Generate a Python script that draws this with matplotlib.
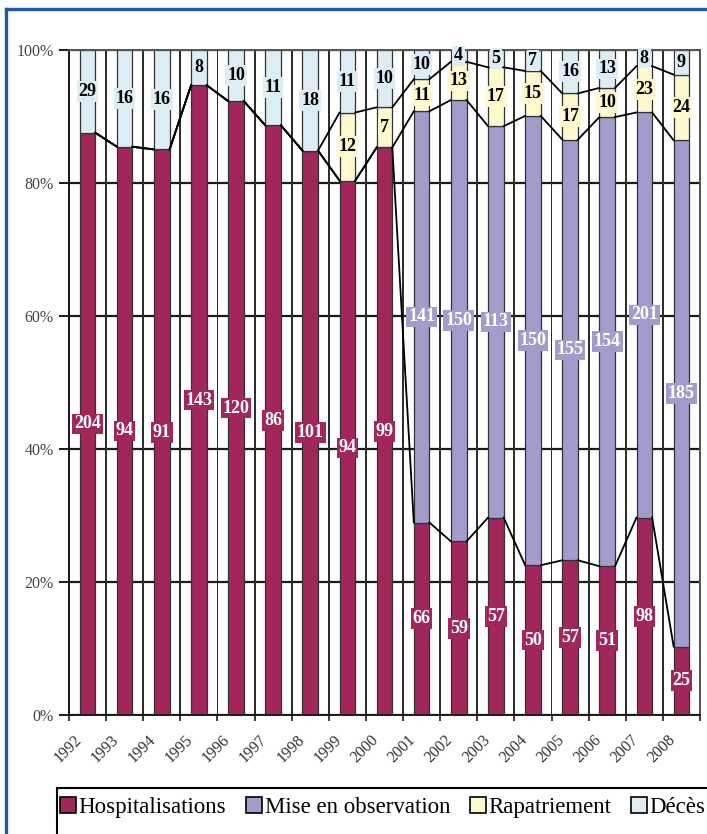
import numpy as np
import matplotlib
matplotlib.use("Agg")
import matplotlib.pyplot as plt
from matplotlib.patches import Rectangle
from matplotlib.lines import Line2D

plt.rcParams['font.family'] = ['Liberation Serif', 'DejaVu Serif']

years = ["1992", "1993", "1994", "1995", "1996", "1997", "1998", "1999", "2000",
         "2001", "2002", "2003", "2004", "2005", "2006", "2007", "2008"]
hospitalisations = [204, 94, 91, 143, 120, 86, 101, 94, 99, 66, 59, 57, 50, 57, 51, 98, 25]
observation = [0, 0, 0, 0, 0, 0, 0, 0, 0, 141, 150, 113, 150, 155, 154, 201, 185]
rapatriement = [0, 0, 0, 0, 0, 0, 0, 12, 7, 11, 13, 17, 15, 17, 10, 23, 24]
deces = [29, 16, 16, 8, 10, 11, 18, 11, 10, 10, 4, 5, 7, 16, 13, 8, 9]
series_names = ["Hospitalisations", "Mise en observation", "Rapatriement", "Décès"]
y_ticks = [0, 20, 40, 60, 80, 100]

colors = ["#a0265c", "#a19ccc", "#fff8cc", "#dcedf6"]
text_colors = ["white", "white", "black", "black"]

W, H = 707, 834
fig = plt.figure(figsize=(W / 100, H / 100), dpi=100)
ax = fig.add_axes([69 / W, 1 - 715 / H, (700 - 69) / W, (715 - 50) / H])

data = np.array([hospitalisations, observation, rapatriement, deces], dtype=float)
totals = data.sum(axis=0)
pct = data / totals * 100
cum = np.cumsum(pct, axis=0)
x = np.arange(len(years))
bw = 0.42
n = len(years)

ax.set_xlim(-0.5, n - 0.5)
ax.set_ylim(0, 100)

# background grid: horizontal every 20 %, vertical every third of a category
for yv in y_ticks:
    ax.axhline(yv, color="#1a1a1a", lw=1.6, zorder=1)
gw = 0.05
for j in range(3 * n + 1):
    gx = -0.5 + j / 3
    ax.add_patch(Rectangle((gx - gw / 2, 0), gw, 100, facecolor="#2e2e2e",
                           edgecolor="none", zorder=1.5))

bottom = np.zeros(n)
for k in range(4):
    ax.bar(x, pct[k], bw, bottom=bottom, color=colors[k], edgecolor="#333333",
           lw=0.9, zorder=2)
    bottom = bottom + pct[k]

# series lines joining the tops of the stacked segments
for k in range(3):
    for i in range(n - 1):
        ax.plot([x[i] + bw / 2, x[i + 1] - bw / 2], [cum[k, i], cum[k, i + 1]],
                color="black", lw=1.3, zorder=3)

# value labels
for k in range(4):
    for i in range(n):
        v = data[k, i]
        if v == 0:
            continue
        yc = cum[k, i] - pct[k, i] / 2
        ax.text(x[i], yc, f"{int(v)}", ha="center", va="center", fontsize=13,
                fontweight="bold", color=text_colors[k], zorder=5,
                bbox=dict(boxstyle="square,pad=0.1", fc=colors[k], ec="none"))

ax.set_xlim(-0.5, n - 0.5)
ax.set_ylim(0, 100)
ax.set_yticks(y_ticks)
ax.set_yticklabels([f"{v}%" for v in y_ticks], fontsize=11.5, color="#444444")
ax.tick_params(axis="y", length=7, width=1.4, color="#1a1a1a", pad=4, direction="out")

# rotated year labels, right end just left of each category centre
ax.set_xticks(x)
ax.set_xticklabels([])
ax.tick_params(axis="x", which="major", length=0)
ax.set_xticks(np.arange(-0.5, n), minor=True)
ax.tick_params(axis="x", which="minor", length=4, width=1.2, color="#1a1a1a")
for i, lab in enumerate(years):
    ax.annotate(lab, xy=(x[i], 0), xycoords=("data", "axes fraction"),
                xytext=(-10, -12), textcoords="offset points", rotation=45,
                ha="right", va="top", rotation_mode="anchor", fontsize=11.5,
                color="#333333")

for s in ax.spines.values():
    s.set_color("#555555")
    s.set_linewidth(1.4)
ax.spines["left"].set_color("#1a1a1a")
ax.spines["bottom"].set_color("#1a1a1a")

# legend and its frame
handles = [Rectangle((0, 0), 1, 1, fc=c, ec="black", lw=1.2) for c in colors]
fig.legend(handles, series_names, loc="upper left", ncol=4,
           bbox_to_anchor=(60 / W, 1 - 797 / H), frameon=False, fontsize=16.5,
           handlelength=0.7, handleheight=0.7, handletextpad=0.12,
           columnspacing=0.85, borderaxespad=0, borderpad=0)
fig.add_artist(Rectangle((57 / W, -0.05), 0.99, (834 - 788) / H + 0.05,
                         transform=fig.transFigure, fill=False, ec="black", lw=1.5))

# blue page border
fig.add_artist(Line2D([6 / W, 6 / W], [0, 1 - 9 / H], transform=fig.transFigure,
                      color="#1e5ba6", lw=2.4))
fig.add_artist(Line2D([6 / W, 1], [1 - 9 / H, 1 - 9 / H], transform=fig.transFigure,
                      color="#1e5ba6", lw=2.4))

fig.savefig("out.png", dpi=100)
